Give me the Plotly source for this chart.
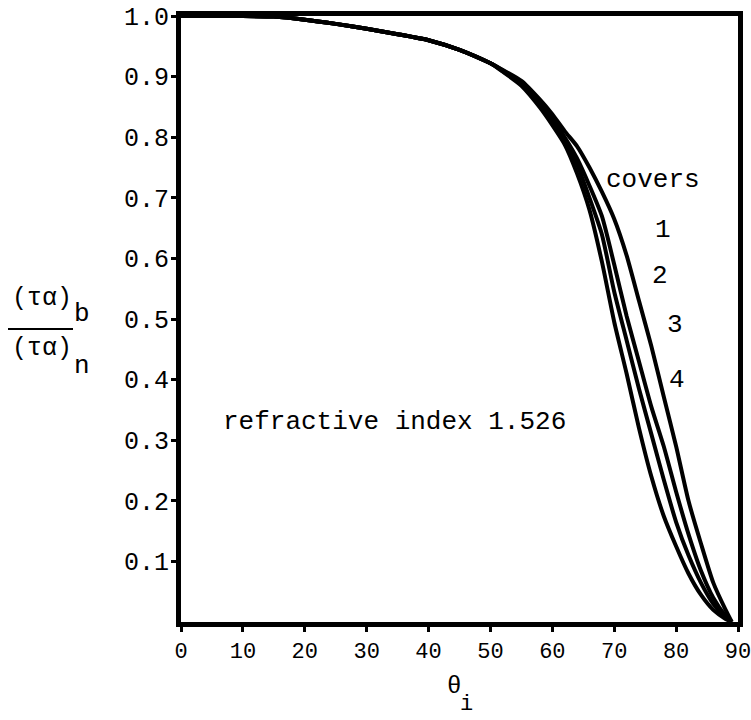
import plotly.graph_objects as go

# ---- data ----
theta = [0, 10, 15, 20, 25, 30, 35, 40, 45, 50, 52, 55, 58, 60, 62, 64, 66, 68, 70,
         72, 74, 76, 78, 80, 82, 84, 86, 88, 89]
common = [1.0, 1.0, 0.999, 0.994, 0.987, 0.979, 0.970, 0.960, 0.944, 0.922]
cover1 = common + [0.911, 0.893, 0.862, 0.838, 0.810, 0.785, 0.750, 0.710, 0.665, 0.605,
                   0.530, 0.455, 0.372, 0.290, 0.200, 0.130, 0.065, 0.020, 0.0]
cover2 = common + [0.910, 0.889, 0.857, 0.830, 0.800, 0.765, 0.720, 0.670, 0.590, 0.505,
                   0.430, 0.355, 0.290, 0.215, 0.145, 0.085, 0.040, 0.010, 0.0]
cover3 = common + [0.909, 0.887, 0.853, 0.825, 0.795, 0.755, 0.700, 0.640, 0.545, 0.465,
                   0.385, 0.310, 0.235, 0.165, 0.110, 0.065, 0.030, 0.007, 0.0]
cover4 = common + [0.908, 0.885, 0.849, 0.820, 0.788, 0.740, 0.680, 0.595, 0.495, 0.410,
                   0.320, 0.240, 0.175, 0.125, 0.080, 0.045, 0.020, 0.005, 0.0]
series = [cover1, cover2, cover3, cover4]

x_ticks = [0, 10, 20, 30, 40, 50, 60, 70, 80, 90]
y_ticks = [0.1, 0.2, 0.3, 0.4, 0.5, 0.6, 0.7, 0.8, 0.9, 1.0]
y_ticktext = ["0.1", "0.2", "0.3", "0.4", "0.5", "0.6", "0.7", "0.8", "0.9", "1.0"]
cover_labels = ["1", "2", "3", "4"]

FONT = "Liberation Mono, Courier New, monospace"
W, H = 751, 720
ML, MR, MT, MB = 181, 13, 16, 98
PW, PH = W - ML - MR, H - MT - MB


def px(xp):
    return (xp - ML) / PW


def py(yp):
    return (H - MB - yp) / PH


def txt(x, y, t, ref="data", size=26):
    xr, yr = ("x", "y") if ref == "data" else ("paper", "paper")
    return dict(x=x, y=y, xref=xr, yref=yr, text=t, showarrow=False,
                xanchor="center", yanchor="middle",
                font=dict(family=FONT, size=size, color="black"))


fig = go.Figure()
for s in series:
    fig.add_trace(go.Scatter(x=theta, y=s, mode="lines",
                             line=dict(color="black", width=4, shape="spline",
                                       smoothing=0.6),
                             showlegend=False, hoverinfo="skip"))

ann = []
ann.append(txt(76.3, 0.729, "covers"))
label_pos = [(77.9, 0.647), (77.4, 0.571), (79.8, 0.49), (80.1, 0.40)]
for (lx, ly), t in zip(label_pos, cover_labels):
    ann.append(txt(lx, ly, t))
ann.append(txt(34.5, 0.33, "refractive index 1.526"))

# x-axis title: theta_i
ann.append(txt(px(454), py(686), "θ", ref="paper", size=24))
ann.append(txt(px(466), py(704), "i", ref="paper", size=22))

# y-axis title: (τα)_b / (τα)_n
ann.append(txt(px(42), py(298), "(τα)", ref="paper", size=25))
ann.append(txt(px(82), py(314), "b", ref="paper"))
ann.append(txt(px(42), py(348), "(τα)", ref="paper", size=25))
ann.append(txt(px(82), py(366), "n", ref="paper"))

fig.add_shape(type="line", xref="paper", yref="paper",
              x0=px(8), x1=px(73), y0=py(329), y1=py(329),
              line=dict(color="black", width=2))

fig.update_layout(
    width=W, height=H,
    margin=dict(l=ML, r=MR, t=MT, b=MB, autoexpand=False),
    paper_bgcolor="white", plot_bgcolor="white",
    annotations=ann,
    xaxis=dict(range=[0, 90], tickvals=x_ticks, ticks="outside", ticklen=5,
               tickwidth=3, tickcolor="black", showgrid=False, zeroline=False,
               showline=True, linewidth=5, linecolor="black", mirror=True,
               automargin=False, ticklabeloverflow="allow",
               tickfont=dict(family=FONT, size=22, color="black")),
    yaxis=dict(range=[0, 1.0], tickvals=y_ticks, ticktext=y_ticktext,
               ticks="outside", ticklen=5, tickwidth=3, tickcolor="black",
               showgrid=False, zeroline=False, showline=True, linewidth=5,
               linecolor="black", mirror=True, automargin=False,
               ticklabelstandoff=-3, ticklabeloverflow="allow",
               tickfont=dict(family=FONT, size=25, color="black")),
)

fig.write_html("out.html")
